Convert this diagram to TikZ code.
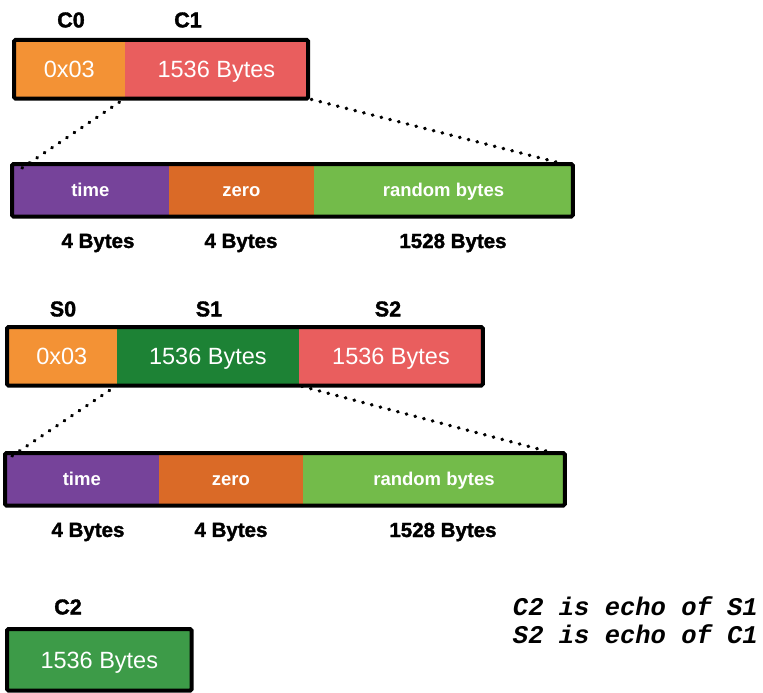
\documentclass[tikz,border=0pt]{standalone}
\usepackage{fontspec}
\setmainfont{Liberation Sans}
\newfontfamily\echofont{Liberation Mono}
\newfontfamily\heavyfont{Liberation Sans Bold}[FakeBold=1.6]
\usepackage{tikz}

\definecolor{versioncol}{HTML}{F39235}
\definecolor{keycol}{HTML}{E95E5E}
\definecolor{timecol}{HTML}{76439A}
\definecolor{zerocol}{HTML}{DA6A27}
\definecolor{randcol}{HTML}{73BB4A}
\definecolor{echocol}{HTML}{1D8235}
\definecolor{ctwocol}{HTML}{3D9B48}

\tikzset{
  seg/.style={anchor=north west, inner sep=0pt, text=white,
    minimum height=#1, text depth=0pt},
  paint/.style={fill=#1, draw=#1, line width=0.6pt},
  bigseg/.style={seg=58pt, text height=16.8pt, font=\fontsize{23.5}{23.5}\selectfont},
  smallseg/.style={seg=52pt, text height=13.2pt, font=\bfseries\fontsize{18.5}{18.5}\selectfont},
  frame/.style={draw=black, line width=4pt, rounded corners=1.5pt},
  title/.style={font=\heavyfont\fontsize{21.5}{21.5}\selectfont},
  size/.style={font=\heavyfont\fontsize{20.5}{20.5}\selectfont},
  zoomline/.style={line width=3.4pt, dash pattern=on 0.6pt off 8.4pt, line cap=round}
}

\begin{document}
\begin{tikzpicture}[x=1pt, y=-1pt]
\useasboundingbox (0,0) rectangle (763,693);

% C0 and C1
\node[bigseg, paint=versioncol, minimum width=110pt] (c0) at (14,40) {0x03};
\node[bigseg, paint=keycol, minimum width=183pt] (c1) at (c0.north east) {1536 Bytes};
\node[title] (c0t) at (71,20) {C0};
\node[title] (c1t) at (188,20) {C1};

% C1 layout
\node[smallseg, paint=timecol, minimum width=156pt] (t1) at (12,164) {time};
\node[smallseg, paint=zerocol, minimum width=145pt] (z1) at (t1.north east) {zero};
\node[smallseg, paint=randcol, minimum width=258pt] (r1) at (z1.north east) {random bytes};
\node[size] (t1s) at (98,243) {4 Bytes};
\node[size] (z1s) at (241,243) {4 Bytes};
\node[size] (r1s) at (453,243) {1528 Bytes};

% S0, S1 and S2
\node[bigseg, paint=versioncol, minimum width=109pt] (s0) at (7,327) {0x03};
\node[bigseg, paint=echocol, minimum width=182pt] (s1) at (s0.north east) {1536 Bytes};
\node[bigseg, paint=keycol, minimum width=183pt] (s2) at (s1.north east) {1536 Bytes};
\node[title] (s0t) at (63,309) {S0};
\node[title] (s1t) at (209,309) {S1};
\node[title] (s2t) at (388,309) {S2};

% S1 layout
\node[smallseg, paint=timecol, minimum width=153pt] (t2) at (5,453) {time};
\node[smallseg, paint=zerocol, minimum width=144pt] (z2) at (t2.north east) {zero};
\node[smallseg, paint=randcol, minimum width=261pt] (r2) at (z2.north east) {random bytes};
\node[size] (t2s) at (88,532) {4 Bytes};
\node[size] (z2s) at (231,532) {4 Bytes};
\node[size] (r2s) at (443,532) {1528 Bytes};

% C2
\node[seg=61pt, paint=ctwocol, minimum width=184pt, text height=16.8pt,
  font=\fontsize{23.5}{23.5}\selectfont] (c2) at (7,629) {1536 Bytes};
\node[title] (c2t) at (68,607) {C2};

\node[anchor=north east, align=left, inner sep=0pt,
  font=\echofont\bfseries\itshape\fontsize{25.5}{28}\selectfont] (note) at (758,596)
  {C2 is echo of S1\\S2 is echo of C1};

% dotted zoom lines
\coordinate (c0end) at (22,168);
\coordinate (c1end) at (556,162);
\coordinate (s0end) at (12,456);
\coordinate (s1end) at (546,451);
\draw[zoomline] (c0end) -- (c0.south east);
\draw[zoomline] (c1end) -- (c1.south east);
\draw[zoomline] (s0end) -- (s0.south east);
\draw[zoomline] (s1end) -- (s1.south east);

% frames
\draw[frame] (c0.north west) rectangle (c1.south east);
\draw[frame] (t1.north west) rectangle (r1.south east);
\draw[frame] (s0.north west) rectangle (s2.south east);
\draw[frame] (t2.north west) rectangle (r2.south east);
\draw[frame] (c2.north west) rectangle (c2.south east);
\end{tikzpicture}
\end{document}
